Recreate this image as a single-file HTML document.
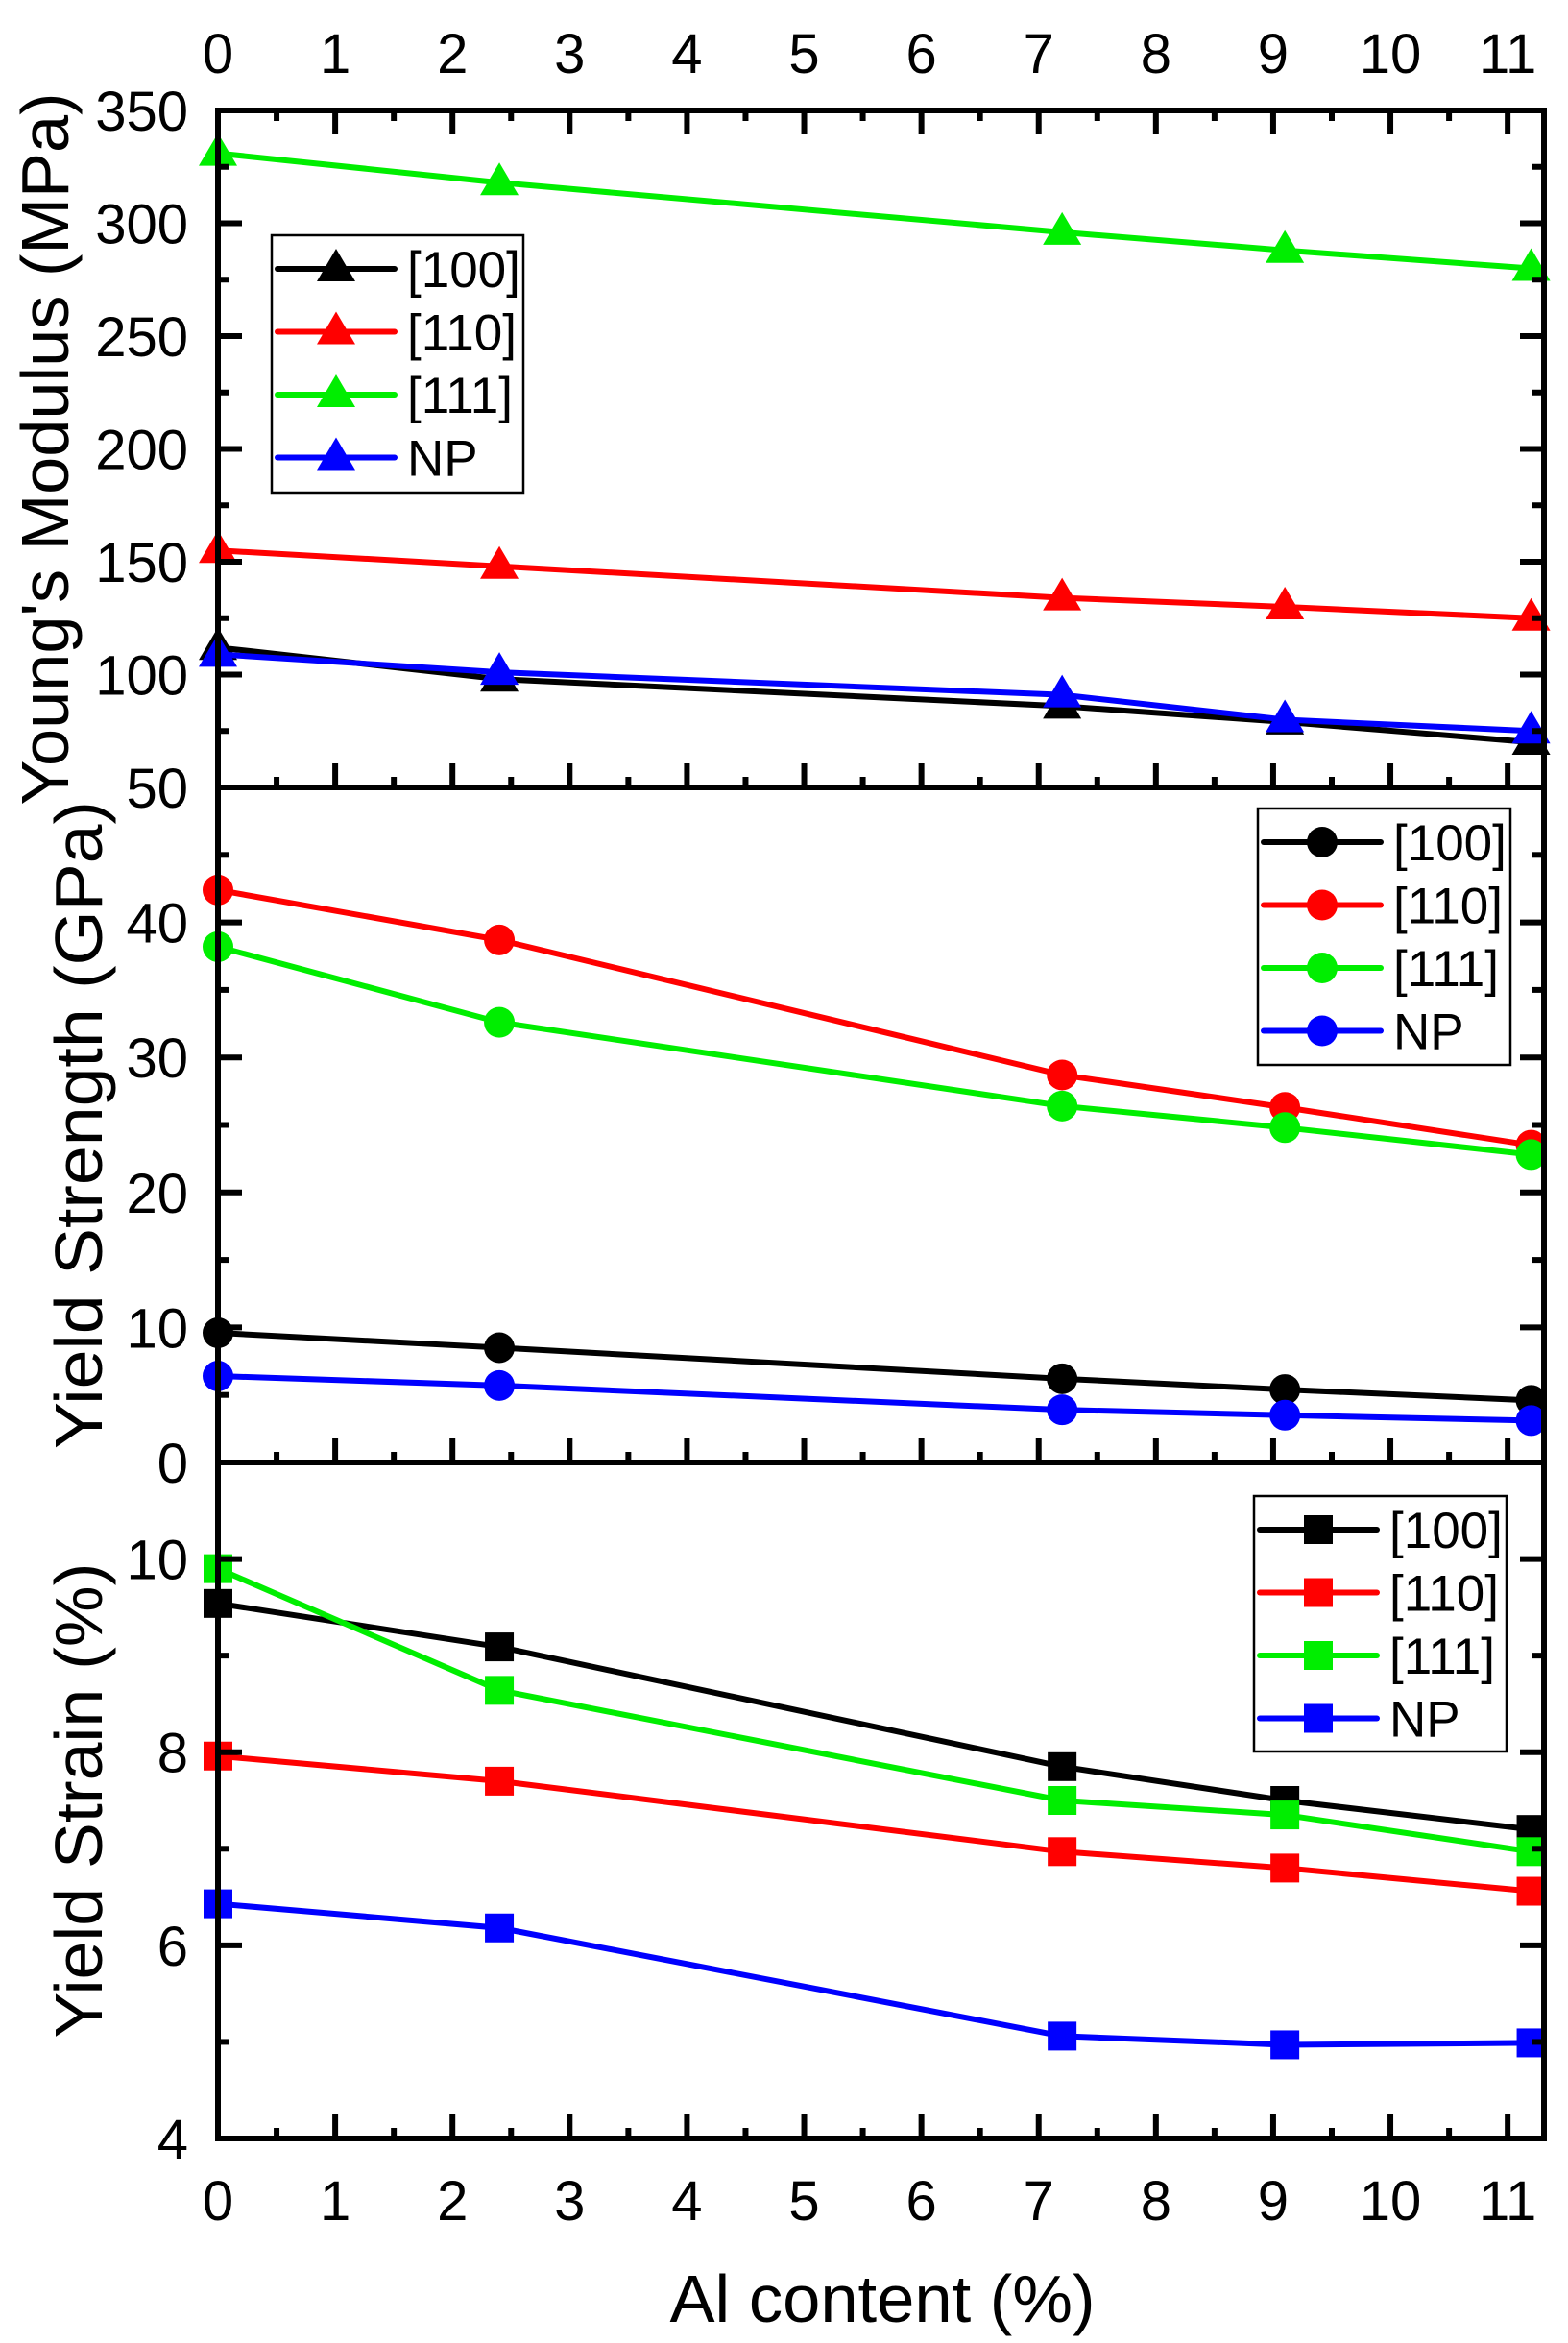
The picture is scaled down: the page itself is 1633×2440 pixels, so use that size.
<!DOCTYPE html>
<html><head><meta charset="utf-8"><style>
html,body{margin:0;padding:0;background:#fff;}
svg{display:block;font-family:"Liberation Sans",Arial,sans-serif;}
</style></head><body>
<svg id="chart" width="1633" height="2440" viewBox="0 0 1633 2440" xmlns="http://www.w3.org/2000/svg"></svg>
<script>
// ---- data ----
const xValues = [0, 2.4, 7.2, 9.1, 11.2];
const seriesNames = ["[100]", "[110]", "[111]", "NP"];
const youngs100 = [112, 98, 86, 79, 70];
const youngs110 = [155, 148, 134, 130, 125];
const youngs111 = [331, 318, 296, 288, 280];
const youngsNP = [109, 101, 91, 80, 75];
const yield100 = [9.6, 8.5, 6.2, 5.4, 4.6];
const yield110 = [42.4, 38.7, 28.7, 26.3, 23.5];
const yield111 = [38.2, 32.6, 26.4, 24.8, 22.8];
const yieldNP = [6.4, 5.7, 3.9, 3.5, 3.1];
const strain100 = [9.54, 9.09, 7.85, 7.5, 7.2];
const strain110 = [7.96, 7.7, 6.97, 6.8, 6.56];
const strain111 = [9.9, 8.64, 7.5, 7.35, 6.97];
const strainNP = [6.43, 6.18, 5.06, 4.97, 4.99];
const xTickLabels = ["0","1","2","3","4","5","6","7","8","9","10","11"];
const youngsTicks = ["50","100","150","200","250","300","350"];
const yieldTicks = ["0","10","20","30","40"];
const strainTicks = ["4","6","8","10"];

const colors = ["#000000","#ff0000","#00ee00","#0000ff"];
const NS = "http://www.w3.org/2000/svg";
const svg = document.getElementById("chart");
function mk(tag, attrs, parent){
  const e = document.createElementNS(NS, tag);
  for (const k in attrs) e.setAttribute(k, attrs[k]);
  (parent||svg).appendChild(e); return e;
}
const X0 = 227, X1 = 1608, XMIN = 0, XMAX = 11.31;
function xs(v){ return X0 + (v - XMIN) / (XMAX - XMIN) * (X1 - X0); }

const panels = [
  {name:"youngs", top:115, bot:820, min:50, max:350, major:50, minor:25, ticks:youngsTicks, marker:"tri", topTicks:true,
   data:[youngs100,youngs110,youngs111,youngsNP], title:"Young's Modulus (MPa)", tx:71, tlen:742,
   legend:{x:283,y:245,w:262,h:268}},
  {name:"yield-strength", top:820, bot:1523, min:0, max:50, major:10, minor:5, ticks:yieldTicks, marker:"circ", topTicks:false,
   data:[yield100,yield110,yield111,yieldNP], title:"Yield Strength (GPa)", tx:106, tlen:675,
   legend:{x:1310,y:842,w:263,h:267}},
  {name:"yield-strain", top:1523, bot:2227, min:4, max:11, major:2, minor:1, ticks:strainTicks, marker:"sq", topTicks:false,
   data:[strain100,strain110,strain111,strainNP], title:"Yield Strain (%)", tx:106, tlen:495,
   legend:{x:1306,y:1558,w:263,h:266}}
];

function marker(g, kind, cx, cy, col){
  let m;
  if (kind==="tri") m = mk("polygon",{points:`${cx},${cy-21} ${cx-20},${cy+13} ${cx+20},${cy+13}`,fill:col},g);
  else if (kind==="circ") m = mk("circle",{cx:cx,cy:cy,r:16,fill:col},g);
  else m = mk("rect",{x:cx-15,y:cy-15,width:30,height:30,fill:col},g);
  return m;
}

panels.forEach(p=>{
  const ys = v => p.bot - (v - p.min)/(p.max - p.min)*(p.bot - p.top);
  const g = mk("g",{});
  
  
  p.data.forEach((arr, si)=>{
    const sg = mk("g",{},g);
    
    
    const pts = arr.map((v,i)=>xs(xValues[i])+","+ys(v)).join(" ");
    const pl = mk("polyline",{points:pts,fill:"none",stroke:colors[si],"stroke-width":6,"stroke-linejoin":"round"},sg);
    
    
    arr.forEach((v,i)=>{
      const m = marker(sg, p.marker, xs(xValues[i]), ys(v), colors[si]);
      
      
    });
  });
  const fr = mk("rect",{x:X0,y:p.top,width:X1-X0,height:p.bot-p.top,fill:"none",stroke:"#000","stroke-width":6},g);
  
  
  for (let v=p.min; v<=p.max+1e-9; v+=p.minor){
    const isMaj = Math.abs((v-p.min)/p.major - Math.round((v-p.min)/p.major))<1e-6;
    const L = isMaj?25:12, y = ys(v);
    mk("line",{x1:X0,y1:y,x2:X0+L,y2:y,stroke:"#000","stroke-width":6},g);
    mk("line",{x1:X1,y1:y,x2:X1-L,y2:y,stroke:"#000","stroke-width":6},g);
  }
  p.ticks.forEach(t=>{
    const tx = mk("text",{x:196,y:ys(+t)+21,"font-size":58,"text-anchor":"end"},g);
    tx.textContent = t;
    
    
  });
  for (let v=0; v<=11.01; v+=0.5){
    const isMaj = Math.abs(v-Math.round(v))<1e-6, L = isMaj?25:11, x = xs(v);
    mk("line",{x1:x,y1:p.bot,x2:x,y2:p.bot-L,stroke:"#000","stroke-width":6},g);
    if (p.topTicks) mk("line",{x1:x,y1:p.top,x2:x,y2:p.top+L,stroke:"#000","stroke-width":6},g);
  }
  const cy = (p.top+p.bot)/2;
  const tt = mk("text",{x:p.tx,y:cy,"font-size":70,"text-anchor":"middle",transform:`rotate(-90 ${p.tx} ${cy})`,textLength:p.tlen,lengthAdjust:"spacingAndGlyphs"},g);
  tt.textContent = p.title;
  
  
  const L = p.legend;
  const lg = mk("g",{},g);
  
  
  mk("rect",{x:L.x,y:L.y,width:L.w,height:L.h,fill:"#fff",stroke:"#000","stroke-width":2.5},lg);
  seriesNames.forEach((n,si)=>{
    const ey = L.y + 35 + si*65.5;
    const eg = mk("g",{},lg);
    
    
    mk("line",{x1:L.x+6,y1:ey,x2:L.x+128,y2:ey,stroke:colors[si],"stroke-width":6,"stroke-linecap":"round"},eg);
    marker(eg, p.marker, L.x+67, ey, colors[si]);
    const t = mk("text",{x:L.x+141,y:ey+19,"font-size":53},eg);
    t.textContent = n;
  });
});

xTickLabels.forEach(t=>{
  const a = mk("text",{x:xs(+t),y:76,"font-size":58,"text-anchor":"middle"});
  a.textContent = t;
  
  
  const b = mk("text",{x:xs(+t),y:2312,"font-size":58,"text-anchor":"middle"});
  b.textContent = t;
  
  
});
const xt = mk("text",{x:919,y:2418,"font-size":70,"text-anchor":"middle",textLength:443,lengthAdjust:"spacingAndGlyphs"});
xt.textContent = "Al content (%)";


</script>
</body></html>
